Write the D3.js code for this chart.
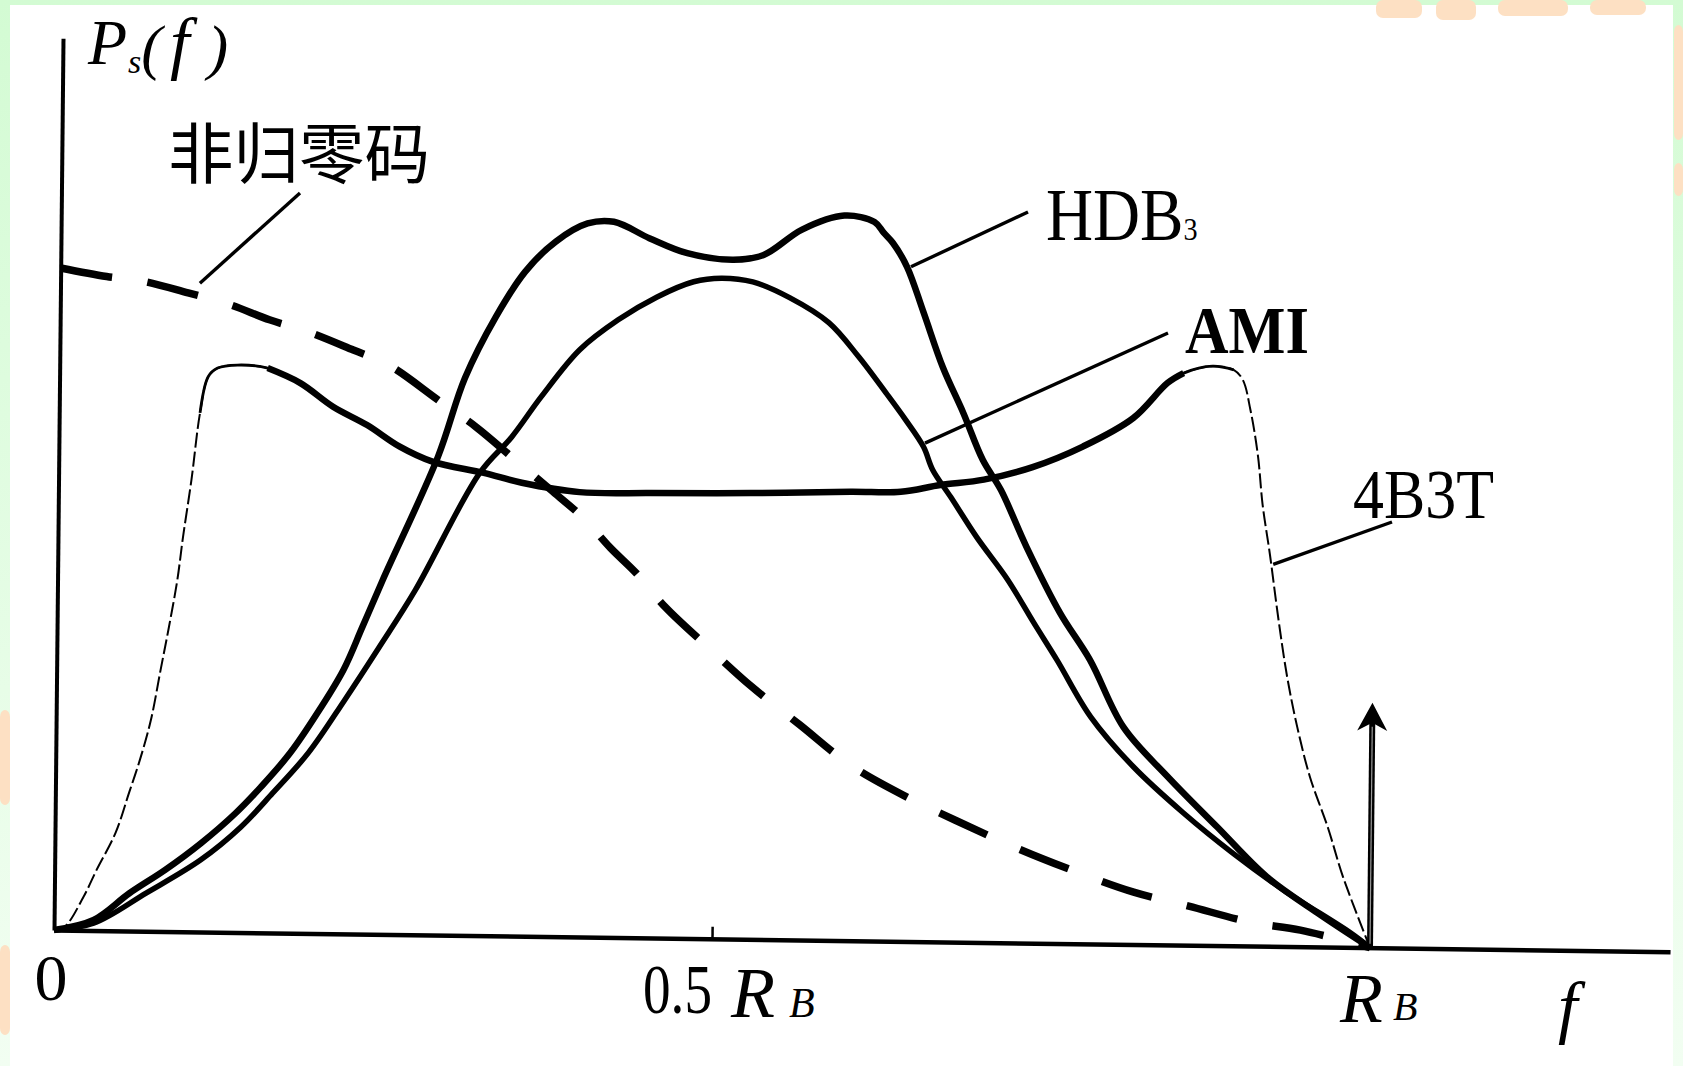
<!DOCTYPE html>
<html>
<head>
<meta charset="utf-8">
<script src="https://cdn.jsdelivr.net/npm/d3@7"></script>
<style>
  html, body { margin: 0; padding: 0; background: #fff; }
  svg { display: block; }
</style>
</head>
<body>
<svg id="chart" width="1683" height="1066"></svg>
<script>
// ---- Power spectral density of line codes, f in units of R_B, P relative to NRZ at f = 0 ----

// 非归零码 (NRZ)
const nrzF = [0, 0.035, 0.062, 0.097, 0.129, 0.159, 0.188, 0.223, 0.250, 0.288, 0.317, 0.347, 0.374, 0.399, 0.420, 0.440, 0.462, 0.495, 0.528, 0.565, 0.604, 0.647, 0.684, 0.731, 0.777, 0.820, 0.862, 0.909, 0.947, 1.0];
const nrzP = [1.0, 0.988, 0.982, 0.965, 0.948, 0.926, 0.909, 0.882, 0.860, 0.808, 0.768, 0.719, 0.675, 0.633, 0.588, 0.550, 0.500, 0.440, 0.382, 0.325, 0.265, 0.218, 0.184, 0.143, 0.108, 0.079, 0.059, 0.036, 0.025, 0];

// HDB3
const hdbF = [0, 0.030, 0.057, 0.084, 0.111, 0.137, 0.156, 0.178, 0.200, 0.218, 0.232, 0.247, 0.288, 0.308, 0.331, 0.353, 0.376, 0.400, 0.420, 0.447, 0.476, 0.511, 0.534, 0.563, 0.595, 0.618, 0.625, 0.632, 0.643, 0.656, 0.671, 0.687, 0.702, 0.716, 0.736, 0.762, 0.785, 0.811, 0.845, 0.883, 0.921, 0.960, 1.0];
const hdbP = [0, 0.016, 0.057, 0.093, 0.134, 0.180, 0.220, 0.272, 0.338, 0.399, 0.464, 0.535, 0.722, 0.842, 0.935, 1.004, 1.050, 1.078, 1.081, 1.057, 1.035, 1.026, 1.034, 1.073, 1.095, 1.086, 1.070, 1.055, 1.019, 0.950, 0.868, 0.799, 0.729, 0.684, 0.598, 0.499, 0.429, 0.328, 0.254, 0.179, 0.105, 0.051, 0];

// AMI
const amiF = [0, 0.030, 0.070, 0.111, 0.141, 0.165, 0.192, 0.219, 0.245, 0.272, 0.320, 0.344, 0.366, 0.395, 0.424, 0.453, 0.481, 0.502, 0.526, 0.554, 0.584, 0.607, 0.628, 0.643, 0.657, 0.664, 0.678, 0.698, 0.722, 0.742, 0.760, 0.786, 0.819, 0.857, 0.895, 0.934, 0.985, 1.0];
const amiP = [0, 0.011, 0.058, 0.109, 0.159, 0.211, 0.273, 0.353, 0.434, 0.521, 0.699, 0.754, 0.815, 0.887, 0.933, 0.968, 0.992, 0.998, 0.993, 0.970, 0.933, 0.882, 0.828, 0.788, 0.747, 0.713, 0.672, 0.612, 0.548, 0.484, 0.428, 0.343, 0.268, 0.200, 0.140, 0.085, 0.022, 0];

// 4B3T
const b3tF = [0, 0.008, 0.022, 0.032, 0.046, 0.056, 0.064, 0.072, 0.079, 0.085, 0.091, 0.095, 0.101, 0.107, 0.113, 0.120, 0.135, 0.158, 0.183, 0.208, 0.234, 0.259, 0.284, 0.323, 0.352, 0.396, 0.450, 0.526, 0.602, 0.640, 0.670, 0.703, 0.740, 0.778, 0.816, 0.842, 0.854, 0.876, 0.892, 0.899, 0.905, 0.911, 0.915, 0.921, 0.928, 0.935, 0.943, 0.953, 0.967, 0.979, 1.0];
const b3tP = [0, 0.005, 0.050, 0.092, 0.148, 0.209, 0.259, 0.319, 0.395, 0.460, 0.531, 0.596, 0.683, 0.784, 0.839, 0.852, 0.857, 0.853, 0.831, 0.796, 0.769, 0.737, 0.715, 0.699, 0.685, 0.672, 0.672, 0.674, 0.678, 0.679, 0.690, 0.699, 0.719, 0.751, 0.795, 0.849, 0.864, 0.875, 0.870, 0.855, 0.810, 0.742, 0.667, 0.591, 0.493, 0.407, 0.332, 0.257, 0.181, 0.106, 0];

// discrete spectral line at f = R_B
const lineF = 1.0;
const lineP = 0.37;

// axis extents and tick values
const xMax = 1.228;
const yMax = 1.347;
const xTicks = [0.5];

// ---- layout ----
const W = 1683, H = 1066;
const origin = [54, 930];
const plotW = 1316;   // pixels for f = R_B
const plotH = 662;    // pixels for P = 1
const skewX = 0.0134; // slight tilt of the printed axes
const skewY = 0.0101;

const svg = d3.select("#chart");

// page backdrop
const defs = svg.append("defs");
const edge = defs.append("linearGradient").attr("id", "edge")
  .attr("x1", 0).attr("y1", 0).attr("x2", 0).attr("y2", 1);
edge.append("stop").attr("offset", "0").attr("stop-color", "#d3fbd3");
edge.append("stop").attr("offset", "1").attr("stop-color", "#f2fef2");
svg.append("rect").attr("width", W).attr("height", H).attr("fill", "url(#edge)");
svg.append("rect").attr("x", 10).attr("y", 5).attr("width", 1663).attr("height", H - 5).attr("fill", "#ffffff");

// faint watermark fragments along the edges
const wm = svg.append("g").attr("fill", "#fde0c3");
[[1376, 0, 46, 18], [1436, 0, 40, 20], [1498, 0, 70, 16], [1590, 0, 56, 15],
 [1674, 25, 9, 115], [1674, 163, 9, 33], [0, 710, 10, 95], [0, 945, 10, 90]]
  .forEach(r => wm.append("rect").attr("x", r[0]).attr("y", r[1]).attr("width", r[2]).attr("height", r[3]).attr("rx", 7));

// scales in plot-local coordinates (origin at 0,0, P upwards)
const x = d3.scaleLinear().domain([0, 1]).range([0, plotW]);
const y = d3.scaleLinear().domain([0, 1]).range([0, -plotH]);

function toPage(lx, ly) {
  return [origin[0] + lx - skewY * ly, origin[1] + skewX * lx + ly];
}

const plot = svg.append("g")
  .attr("transform", `matrix(1,${skewX},${-skewY},1,${origin[0]},${origin[1]})`);

// axes
const xAxisScale = d3.scaleLinear().domain([0, xMax]).range([0, x(xMax)]);
const yAxisScale = d3.scaleLinear().domain([0, yMax]).range([0, y(yMax)]);

const xAxis = plot.append("g")
  .call(d3.axisTop(xAxisScale).tickValues(xTicks).tickSizeInner(12).tickSizeOuter(0).tickFormat(""));
xAxis.select(".domain").attr("stroke", "#000").attr("stroke-width", 4.5);
xAxis.selectAll(".tick line").attr("stroke", "#000").attr("stroke-width", 2.5);

const yAxis = plot.append("g")
  .call(d3.axisRight(yAxisScale).tickValues([]).tickSizeOuter(0));
yAxis.select(".domain").attr("stroke", "#000").attr("stroke-width", 4);

// curves
const zip = (fs, ps) => fs.map((f, i) => [f, ps[i]]);
const nrz = zip(nrzF, nrzP);
const hdb = zip(hdbF, hdbP);
const ami = zip(amiF, amiP);
const b3t = zip(b3tF, b3tP);

const line = d3.line().x(d => x(d[0])).y(d => y(d[1])).curve(d3.curveCatmullRom.alpha(0.5));

// 4B3T: thin dashed skirts, heavy body
plot.append("path").datum(b3t).attr("d", line)
  .attr("fill", "none").attr("stroke", "#000").attr("stroke-width", 2)
  .attr("stroke-dasharray", "15,4");
plot.append("path").datum(b3t.filter(d => d[0] >= 0.105 && d[0] <= 0.895)).attr("d", line)
  .attr("fill", "none").attr("stroke", "#000").attr("stroke-width", 2.8);
plot.append("path").datum(b3t.filter(d => d[0] >= 0.150 && d[0] <= 0.870)).attr("d", line)
  .attr("fill", "none").attr("stroke", "#000").attr("stroke-width", 6.5).attr("stroke-linejoin", "round");

// AMI
plot.append("path").datum(ami).attr("d", line)
  .attr("fill", "none").attr("stroke", "#000").attr("stroke-width", 5.5).attr("stroke-linejoin", "round");

// HDB3
plot.append("path").datum(hdb).attr("d", line)
  .attr("fill", "none").attr("stroke", "#000").attr("stroke-width", 6.5).attr("stroke-linejoin", "round");

// NRZ (dashed)
plot.append("path").datum(nrz).attr("d", line)
  .attr("fill", "none").attr("stroke", "#000").attr("stroke-width", 7.5)
  .attr("stroke-dasharray", "52,36");

// spectral line at R_B
const ax = x(lineF), ay0 = y(0), ay1 = y(lineP);
plot.append("line").attr("x1", ax).attr("y1", ay0).attr("x2", ax).attr("y2", ay1 + 18)
  .attr("stroke", "#000").attr("stroke-width", 6);
plot.append("line").attr("x1", ax).attr("y1", ay0 - 4).attr("x2", ax).attr("y2", ay1 + 24)
  .attr("stroke", "#9a9a9a").attr("stroke-width", 1.2);
plot.append("path")
  .attr("d", `M${ax},${ay1} L${ax + 15},${ay1 + 28} L${ax},${ay1 + 20} L${ax - 15},${ay1 + 28} Z`)
  .attr("fill", "#000");

// ---- annotations (page coordinates) ----
const page = svg.append("g");

function curvePoint(series, f) {
  const i = d3.bisector(d => d[0]).left(series, f);
  const a = series[Math.max(0, i - 1)], b = series[Math.min(series.length - 1, i)];
  const t = b[0] === a[0] ? 0 : (f - a[0]) / (b[0] - a[0]);
  const p = a[1] + t * (b[1] - a[1]);
  return toPage(x(f), y(p));
}

function leader(from, series, f, off) {
  const end = curvePoint(series, f);
  page.append("line")
    .attr("x1", from[0]).attr("y1", from[1])
    .attr("x2", end[0] + off[0]).attr("y2", end[1] + off[1])
    .attr("stroke", "#000").attr("stroke-width", 3.4);
}

leader([300, 193], nrz, 0.106, [0, -13]);
leader([1028, 212], hdb, 0.643, [4, 0]);
leader([1168, 333], ami, 0.655, [4, 0]);
leader([1392, 522], b3t, 0.922, [2, 0]);

const serif = "'Liberation Serif', 'Times New Roman', serif";

// series labels
page.append("text").attr("x", 168).attr("y", 178)
  .attr("font-family", "'Noto Sans CJK SC', sans-serif").attr("font-size", 66).attr("font-weight", 400)
  .attr("textLength", 262).attr("lengthAdjust", "spacingAndGlyphs")
  .text("非归零码");

const hdbLabel = page.append("text")
  .attr("transform", "translate(1046,240) scale(0.88,1)")
  .attr("font-family", serif).attr("font-size", 74);
hdbLabel.append("tspan").text("HDB");
hdbLabel.append("tspan").attr("font-size", 32).text("3");

page.append("text").attr("x", 1185).attr("y", 353)
  .attr("font-family", serif).attr("font-size", 68).attr("font-weight", 700)
  .attr("textLength", 124).attr("lengthAdjust", "spacingAndGlyphs").text("AMI");

page.append("text").attr("x", 1353).attr("y", 518)
  .attr("font-family", serif).attr("font-size", 70)
  .attr("textLength", 141).attr("lengthAdjust", "spacingAndGlyphs").text("4B3T");

// axis labels
const yTop = toPage(0, y(yMax));
const psLabel = page.append("text")
  .attr("x", yTop[0] + 25).attr("y", 64)
  .attr("font-family", serif).attr("font-style", "italic").attr("font-size", 64);
psLabel.append("tspan").text("P");
psLabel.append("tspan").attr("dx", 1).attr("dy", 9).attr("font-size", 34).text("s");
psLabel.append("tspan").attr("dx", 0).attr("dy", -5).attr("font-size", 62).text("(");
psLabel.append("tspan").attr("dx", 8).attr("dy", -2).attr("font-size", 70).text("f");
psLabel.append("tspan").attr("dx", 18).attr("dy", 2).attr("font-size", 62).text(")");

page.append("text").attr("x", origin[0] - 3).attr("y", 1000)
  .attr("text-anchor", "middle").attr("font-family", serif).attr("font-size", 66).text("0");

const t05 = toPage(x(0.5), 0);
page.append("text").attr("x", t05[0] - 69).attr("y", 1013)
  .attr("font-family", serif).attr("font-size", 70)
  .attr("textLength", 69).attr("lengthAdjust", "spacingAndGlyphs").text("0.5");
page.append("text").attr("x", t05[0] + 19).attr("y", 1017)
  .attr("font-family", serif).attr("font-style", "italic").attr("font-size", 72).text("R");
page.append("text").attr("x", t05[0] + 77).attr("y", 1017)
  .attr("font-family", serif).attr("font-style", "italic").attr("font-size", 42).text("B");

const t1 = toPage(x(1), 0);
page.append("text").attr("x", t1[0] - 30).attr("y", 1022)
  .attr("font-family", serif).attr("font-style", "italic").attr("font-size", 70).text("R");
page.append("text").attr("x", t1[0] + 23).attr("y", 1020)
  .attr("font-family", serif).attr("font-style", "italic").attr("font-size", 40).text("B");

const xEnd = toPage(x(xMax), 0);
page.append("text").attr("x", xEnd[0] - 112).attr("y", 1030)
  .attr("font-family", serif).attr("font-style", "italic").attr("font-size", 70).text("f");
</script>
</body>
</html>
